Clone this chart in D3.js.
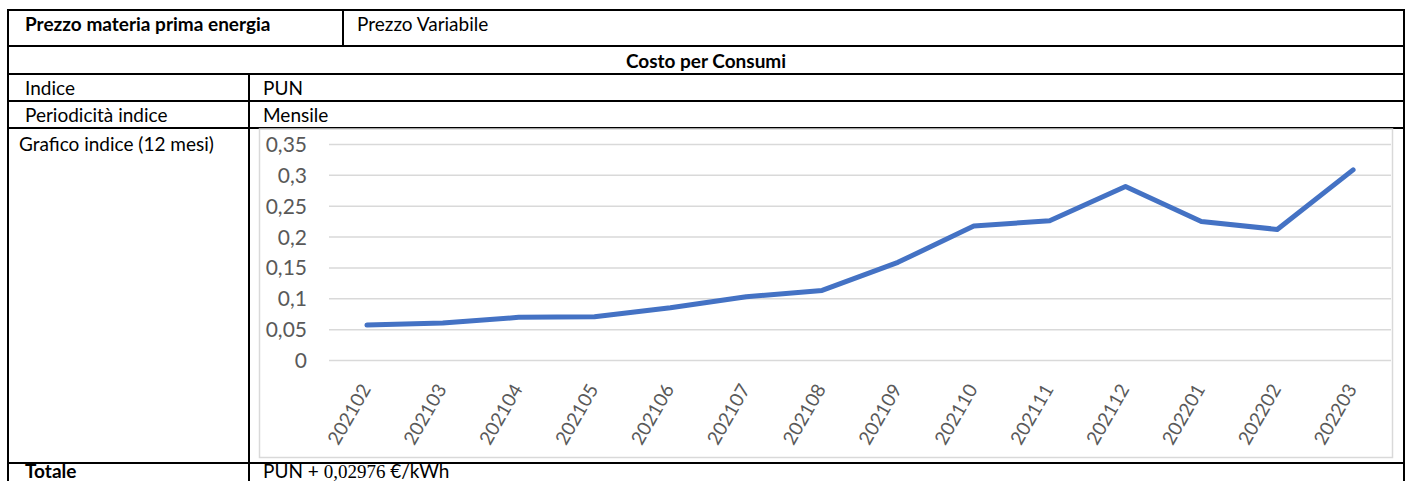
<!DOCTYPE html>
<html>
<head>
<meta charset="utf-8">
<script src="https://cdn.jsdelivr.net/npm/d3@7"></script>
<style>
  html, body { margin: 0; padding: 0; background: #ffffff; }
  svg { display: block; }
  text { font-family: Lato, "Open Sans", sans-serif; }
</style>
</head>
<body>
<svg id="chart" width="1410" height="481"></svg>
<script>
// ---- data ----
const categories = ["202102","202103","202104","202105","202106","202107","202108",
                    "202109","202110","202111","202112","202201","202202","202203"];
const punValues = [0.0566, 0.0600, 0.0691, 0.0700, 0.0846, 0.1024, 0.1128,
                   0.1582, 0.2172, 0.2256, 0.2811, 0.2243, 0.2116, 0.3081];
const yTicks = [0, 0.05, 0.10, 0.15, 0.20, 0.25, 0.30, 0.35];
const headerLabels = ["Prezzo materia prima energia", "Prezzo Variabile"];
const sectionTitle = "Costo per Consumi";
const rowLabels = ["Indice", "Periodicità indice", "Grafico indice (12 mesi)", "Totale"];
const rowValues = ["PUN", "Mensile"];
const totalPrefix = "PUN + ";
const totalNumber = "0,02976";
const totalUnit = " €/kWh";

// ---- layout ----
const svg = d3.select("#chart");
const L = 8, R = 1404, colA = 249, colH = 343;
const rowY = [10, 46, 74, 101, 128, 463, 500];

const fs = 19;
const lines = svg.append("g").attr("stroke", "#000").attr("stroke-width", 2);

// chart frame
svg.append("rect")
  .attr("x", 259.5).attr("y", 129).attr("width", 1133).attr("height", 328.5)
  .attr("fill", "none").attr("stroke", "#d9d9d9").attr("stroke-width", 1.5);

// plot
const x = d3.scalePoint().domain(categories).range([329, 1391]).padding(0.5);
const y = d3.scaleLinear().domain([0, 0.35]).range([360, 144]);
const itFmt = d3.formatLocale({decimal: ",", thousands: ".", grouping: [3], currency: ["€", ""]}).format(".2~f");

const yAxis = svg.append("g")
  .attr("transform", "translate(329,0)")
  .call(d3.axisLeft(y).tickValues(yTicks).tickFormat(itFmt).tickSize(-1062).tickPadding(22));
yAxis.select(".domain").remove();
yAxis.selectAll(".tick line").attr("stroke", "#d9d9d9").attr("stroke-width", 1.5);
yAxis.selectAll(".tick text")
  .attr("fill", "#595959").attr("font-size", 21).attr("dy", "0.36em")
  .style("font-family", "Lato, sans-serif");

const xAxis = svg.append("g")
  .attr("transform", "translate(0,360)")
  .call(d3.axisBottom(x).tickSize(0).tickPadding(0));
xAxis.select(".domain").remove();
xAxis.selectAll(".tick text")
  .attr("fill", "#595959").attr("font-size", 19)
  .attr("text-anchor", "end")
  .attr("dy", null).attr("y", null)
  .attr("transform", "translate(4,29) rotate(-60)")
  .style("font-family", "Lato, sans-serif");

const line = d3.line().x((d, i) => x(categories[i])).y(d => y(d));
svg.append("path")
  .datum(punValues)
  .attr("d", line)
  .attr("fill", "none")
  .attr("stroke", "#4472C4")
  .attr("stroke-width", 5)
  .attr("stroke-linecap", "round")
  .attr("stroke-linejoin", "round");

// table lines
rowY.slice(0, 6).forEach(v => {
  lines.append("line").attr("x1", L - 1).attr("x2", R + 1).attr("y1", v).attr("y2", v);
});
lines.append("line").attr("x1", L).attr("x2", L).attr("y1", rowY[0] - 1).attr("y2", 481);
lines.append("line").attr("x1", R).attr("x2", R).attr("y1", rowY[0] - 1).attr("y2", 481);
lines.append("line").attr("x1", colH).attr("x2", colH).attr("y1", rowY[0]).attr("y2", rowY[1]);
lines.append("line").attr("x1", colA).attr("x2", colA).attr("y1", rowY[2]).attr("y2", 481);

// table texts
const t = svg.append("g").attr("font-size", fs).attr("fill", "#000");
t.append("text").attr("x", 25).attr("y", 31).attr("font-weight", "bold").text(headerLabels[0]);
t.append("text").attr("x", 357).attr("y", 31).text(headerLabels[1]);
t.append("text").attr("x", (L + R) / 2).attr("y", 68).attr("text-anchor", "middle")
  .attr("font-weight", "bold").text(sectionTitle);
t.append("text").attr("x", 25).attr("y", 95).text(rowLabels[0]);
t.append("text").attr("x", 263).attr("y", 95).text(rowValues[0]);
t.append("text").attr("x", 25).attr("y", 121.5).text(rowLabels[1]);
t.append("text").attr("x", 263).attr("y", 121.5).text(rowValues[1]);
t.append("text").attr("x", 19).attr("y", 151).text(rowLabels[2]);
t.append("text").attr("x", 25).attr("y", 478).attr("font-weight", "bold").text(rowLabels[3]);
const tot = t.append("text").attr("x", 263).attr("y", 478);
tot.append("tspan").text(totalPrefix);
tot.append("tspan").style("font-family", "'Liberation Serif', serif").text(totalNumber);
tot.append("tspan").text(totalUnit);
</script>
</body>
</html>
